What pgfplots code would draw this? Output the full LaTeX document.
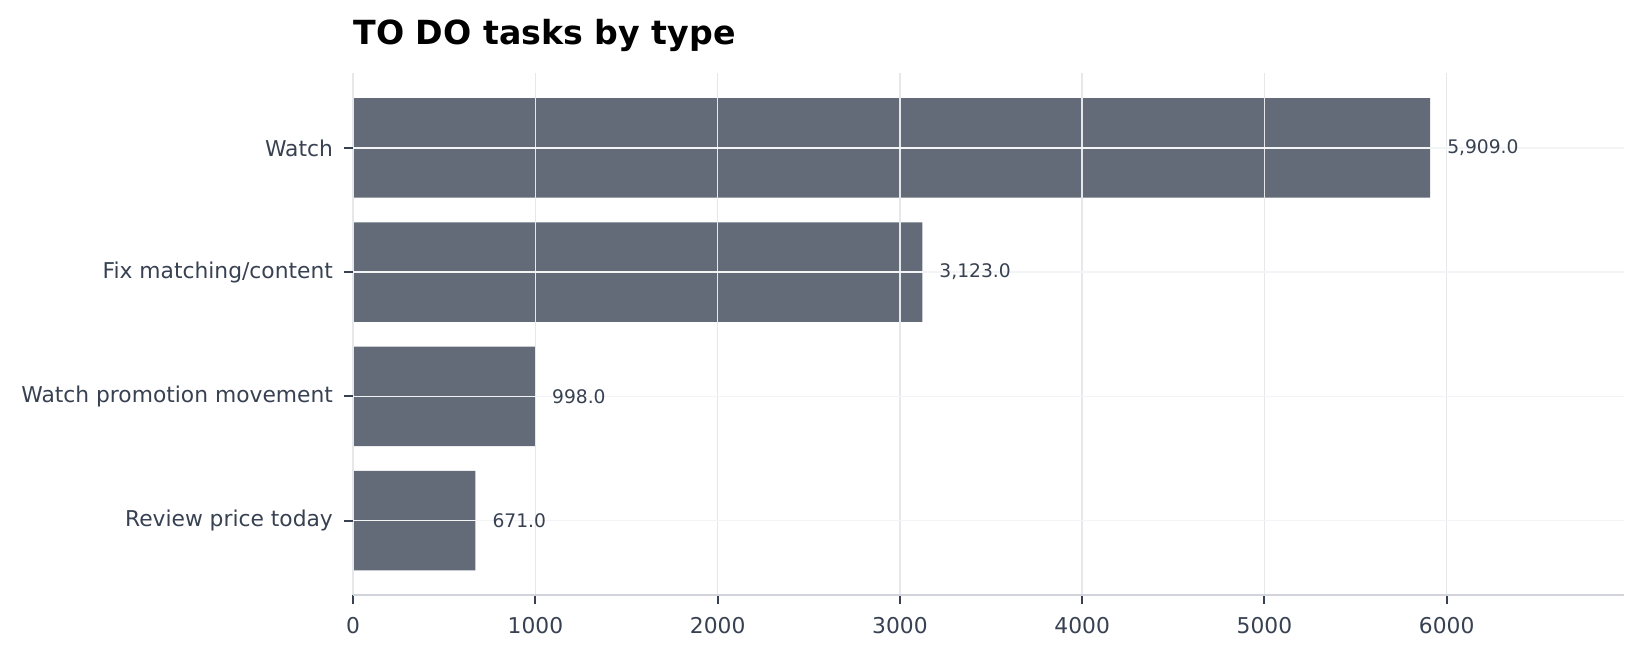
\documentclass[border=0pt]{standalone}
\usepackage{fontspec}
\setmainfont{DejaVu Sans}
\usepackage{pgfplots}
\pgfplotsset{compat=1.18}
\definecolor{barc}{RGB}{99,107,120}
\definecolor{txt}{RGB}{55,65,81}
\definecolor{gridv}{RGB}{229,231,235}
\definecolor{gridh}{RGB}{243,244,246}
\definecolor{axc}{RGB}{209,213,219}
\begin{document}
\begin{tikzpicture}
\useasboundingbox (0,0) rectangle (788.6bp,315.8bp);
\begin{axis}[
  name=ax,
  at={(169.5bp,30.1bp)}, anchor=south west,
  scale only axis, width=610bp, height=250.5bp,
  xbar, bar width=0.8,
  xmin=0, xmax=6973, ymin=-0.6, ymax=3.6,
  xtick={0,1000,2000,3000,4000,5000,6000},
  ytick={0,1,2,3},
  yticklabels={Review price today, Watch promotion movement, Fix matching/content, Watch},
  axis x line=bottom, axis y line=left,
  x axis line style={draw=axc, line width=1bp, -},
  y axis line style={draw=none, -},
  xmajorgrids, ymajorgrids,
  x grid style={draw=gridv, line width=0.7bp},
  y grid style={draw=gridh, line width=0.7bp},
  axis on top,
  tick align=outside,
  major tick length=4.2bp,
  tick style={draw=txt, line width=1bp},
  tick label style={font=\fontsize{10.5}{12.5}\selectfont, text=txt},
  xticklabel style={yshift=-3bp},
  yticklabel style={xshift=-2bp},
  /pgf/number format/assume math mode=true,
  xticklabel={\pgfmathprintnumber[1000 sep={}]{\tick}},
  scaled x ticks=false,
  point meta=x,
  nodes near coords={\pgfmathprintnumber[fixed,fixed zerofill,precision=1,1000 sep={,}]{\pgfplotspointmeta}},
  every node near coord/.append style={font=\fontsize{9}{11}\selectfont, text=txt, anchor=west, xshift=4.7bp},
]
\addplot[draw=none, fill=barc] coordinates {(671,0) (998,1) (3123,2) (5909,3)};
\end{axis}
\node[anchor=base west, inner sep=0pt, font=\bfseries\fontsize{16}{19}\selectfont, text=black] at ([yshift=13.6bp]ax.north west) {TO DO tasks by type};
\end{tikzpicture}
\end{document}
